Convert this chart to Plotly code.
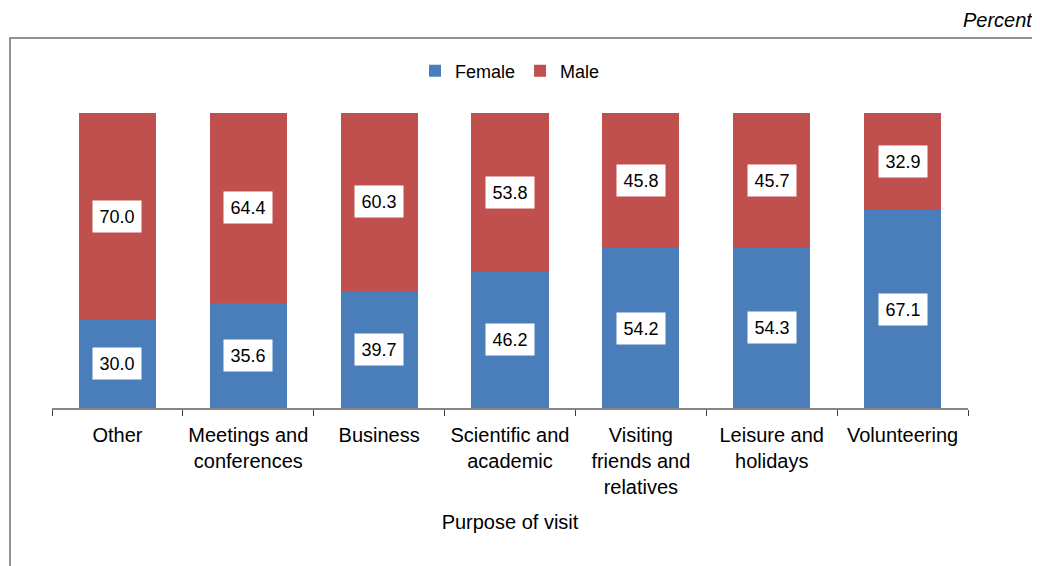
import plotly.graph_objects as go

categories = ["Other", "Meetings and<br>conferences", "Business", "Scientific and<br>academic",
              "Visiting<br>friends and<br>relatives", "Leisure and<br>holidays", "Volunteering"]
female = [30.0, 35.6, 39.7, 46.2, 54.2, 54.3, 67.1]
male = [70.0, 64.4, 60.3, 53.8, 45.8, 45.7, 32.9]

BLUE = "#4A7EBB"
RED = "#C0504D"
FONT = "Liberation Sans, Arial, sans-serif"

# plot area in screen pixels: x 52..968, y 113..408 (page has 8px body margin)
PW, PH = 916, 295


def px(xs):
    return (xs - 52) / PW


def py(ys):
    return (408 - ys) / PH


fig = go.Figure()
fig.add_trace(go.Bar(name="Female", x=categories, y=female, marker=dict(color=BLUE, line=dict(width=0))))
fig.add_trace(go.Bar(name="Male", x=categories, y=male, marker=dict(color=RED, line=dict(width=0))))

annotations = []
for c, f, m in zip(categories, female, male):
    for y, v in ((f / 2, f), (f + m / 2, m)):
        annotations.append(dict(x=c, y=y, xref="x", yref="y", text=f"{v:.1f}", showarrow=False,
                                font=dict(family=FONT, size=18, color="black"),
                                bgcolor="white", borderpad=4, width=40, height=23))
annotations.append(dict(x=px(1035), y=py(20), xref="paper", yref="paper", xanchor="right", yanchor="middle",
                        text="<i>Percent</i>", showarrow=False,
                        font=dict(family=FONT, size=20, color="black")))

fig.update_layout(
    barmode="stack",
    bargap=0.41,
    width=1032, height=558,
    margin=dict(l=44, r=72, t=105, b=158),
    paper_bgcolor="white", plot_bgcolor="white",
    font=dict(family=FONT, color="black"),
    legend=dict(orientation="h", x=0.5, xanchor="center", y=py(71), yanchor="middle",
                font=dict(family=FONT, size=18), itemwidth=30, traceorder="normal"),
    annotations=annotations,
    shapes=[dict(type="rect", xref="paper", yref="paper",
                 x0=px(10), x1=px(1035),
                 y0=py(600), y1=py(38),
                 line=dict(color="#6F6F6F", width=1.5), fillcolor="rgba(0,0,0,0)", layer="below")],
    xaxis=dict(showline=True, linecolor="#868686", linewidth=1.5, ticks="outside", tickson="boundaries",
               ticklen=6, tickcolor="#404040", tickfont=dict(family=FONT, size=20, color="black"),
               ticklabelstandoff=8,
               title=dict(text="Purpose of visit", font=dict(family=FONT, size=20, color="black"), standoff=18),
               showgrid=False),
    yaxis=dict(range=[0, 100], visible=False, showgrid=False),
)

fig.write_html("out.html")
